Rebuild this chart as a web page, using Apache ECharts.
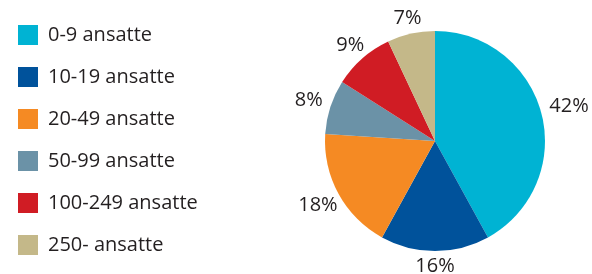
<!DOCTYPE html>
<html>
<head>
<meta charset="utf-8">
<script src="https://cdn.jsdelivr.net/npm/echarts@6/dist/echarts.min.js"></script>
<style>
  html, body { margin: 0; padding: 0; background: #fff; }
  #chart { width: 592px; height: 274px; }
</style>
</head>
<body>
<div id="chart"></div>
<script>
// kategorier (antall ansatte)
const categories = ['0-9 ansatte', '10-19 ansatte', '20-49 ansatte', '50-99 ansatte', '100-249 ansatte', '250- ansatte']
// andel i prosent
const values = [42, 16, 18, 8, 9, 7]
const colors = ['#00b3d3', '#00529b', '#f58a23', '#6b92a7', '#d01c24', '#c4b889']

const pieCenter = [435, 141]
const pieRadius = 110
const labelSize = 20
const labelGap = 8

const chart = echarts.init(document.getElementById('chart'))

const total = values.reduce((a, b) => a + b, 0)
// midtvinkel for hvert stykke (med klokka fra toppen)
const midAngles = []
let acc = 0
values.forEach((v) => {
  midAngles.push((acc + v / 2) / total * Math.PI * 2)
  acc += v
})

// plasser etiketten sentrert utenfor sirkelen, som i originalen
const placeLabel = (params) => {
  const a = midAngles[params.dataIndex]
  const s = Math.sin(a)
  const c = Math.cos(a)
  const hw = params.labelRect.width / 2
  const hh = labelSize * 0.75 / 2
  const off = Math.min(
    Math.abs(s) > 1e-6 ? hw / Math.abs(s) : Infinity,
    Math.abs(c) > 1e-6 ? hh / Math.abs(c) : Infinity
  )
  const R = pieRadius + labelGap + off
  return {
    x: pieCenter[0] + R * s,
    y: pieCenter[1] - R * c,
    align: 'center',
    verticalAlign: 'middle'
  }
}

const option = {
  animation: false,
  color: colors,
  textStyle: { fontFamily: 'Open Sans' },
  legend: {
    orient: 'vertical',
    left: 13,
    top: 20,
    icon: 'rect',
    itemWidth: 20,
    itemHeight: 20,
    itemGap: 22,
    selectedMode: false,
    data: categories,
    textStyle: {
      fontSize: 20,
      color: '#231f20',
      padding: [0, 0, 0, 5]
    }
  },
  series: [
    {
      type: 'pie',
      center: pieCenter,
      radius: pieRadius,
      startAngle: 90,
      clockwise: true,
      avoidLabelOverlap: false,
      label: {
        show: true,
        position: 'outside',
        formatter: '{c}%',
        fontSize: labelSize,
        color: '#231f20'
      },
      labelLine: { show: false },
      labelLayout: placeLabel,
      data: categories.map((name, i) => ({ name: name, value: values[i] }))
    }
  ]
}

chart.setOption(option)
</script>
</body>
</html>
